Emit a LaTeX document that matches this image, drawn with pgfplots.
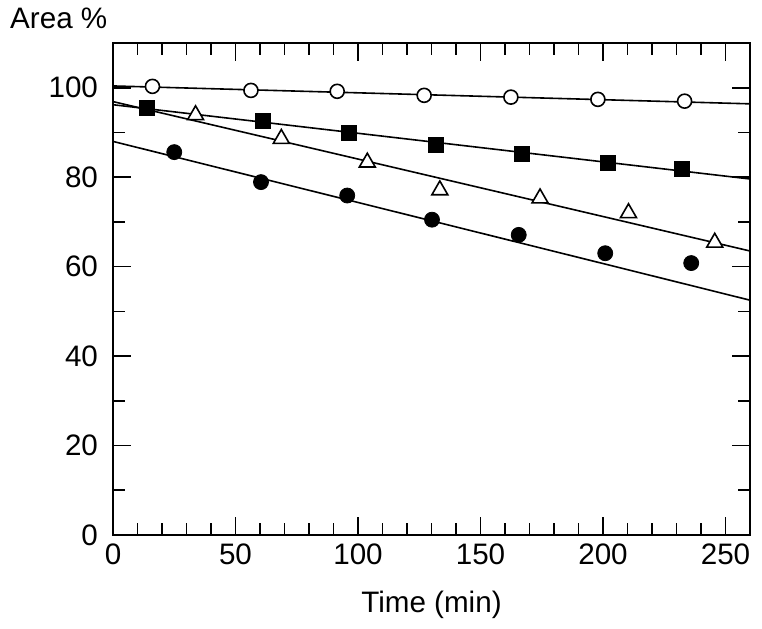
\documentclass[border=0pt]{standalone}
\usepackage{fontspec}
\setmainfont{Liberation Sans}
\usepackage{pgfplots}
\pgfplotsset{compat=1.18}
\begin{document}
\begin{tikzpicture}
\begin{axis}[
  scale only axis,
  width=318.5pt, height=246pt,
  xmin=0, xmax=260, ymin=0, ymax=110,
  xtick={0,50,...,250}, ytick={0,20,...,100},
  minor x tick num=4, minor y tick num=1,
  tick align=inside,
  major tick length=9pt, minor tick length=6pt,
  every tick/.style={black, line width=0.8pt},
  axis line style={line width=1pt},
  /pgf/number format/assume math mode=true,
  tick label style={font=\fontsize{14.8}{17}\selectfont},
  xticklabel style={yshift=-1pt},
  yticklabel style={xshift=-4pt},
  xlabel={Time (min)},
  xlabel style={font=\fontsize{14.8}{17}\selectfont, yshift=-6pt},
  clip=false,
]
% fitted lines
\addplot[black, line width=0.8pt] coordinates {(0,100.4) (260,96.4)};
\addplot[black, line width=0.8pt] coordinates {(0,96.2) (260,79.6)};
\addplot[black, line width=0.8pt] coordinates {(0,96.9) (260,63.5)};
\addplot[black, line width=0.8pt] coordinates {(0,88.0) (260,52.5)};
% open circles
\addplot[only marks, mark=*, mark size=3.5pt, mark options={fill=white, draw=black, line width=0.8pt}]
 coordinates {(16.1,100.3) (56.3,99.4) (91.5,99.2) (127,98.3) (162.4,97.9) (197.9,97.4) (233.3,97.0)};
% filled squares
\addplot[only marks, mark=square*, mark size=3.75pt, mark options={fill=black, draw=black}]
 coordinates {(14,95.5) (61.2,92.5) (96.4,89.8) (131.8,87.3) (166.8,85.3) (202,83.3) (232.1,81.8)};
% open triangles
\addplot[only marks, mark=triangle*, mark size=4.6pt, mark options={fill=white, draw=black, line width=0.8pt}]
 coordinates {(33.7,93.9) (68.7,88.6) (103.8,83.3) (133.4,77.1) (174.3,75.3) (210.4,72.0) (245.6,65.4)};
% filled circles
\addplot[only marks, mark=*, mark size=3.75pt, mark options={fill=black, draw=black}]
 coordinates {(25,85.6) (60.4,78.9) (95.6,75.9) (130.2,70.5) (165.6,67.1) (200.9,63.0) (236,60.8)};
\node[anchor=south west, inner sep=0pt, font=\fontsize{14.8}{17}\selectfont] at (rel axis cs:-0.162,1.028) {Area \%};
\end{axis}
\pgfresetboundingbox
\path ([shift={(-56.5pt,-46.5pt)}]current axis.south west) rectangle ([shift={(6pt,21.5pt)}]current axis.north east);
\end{tikzpicture}
\end{document}
